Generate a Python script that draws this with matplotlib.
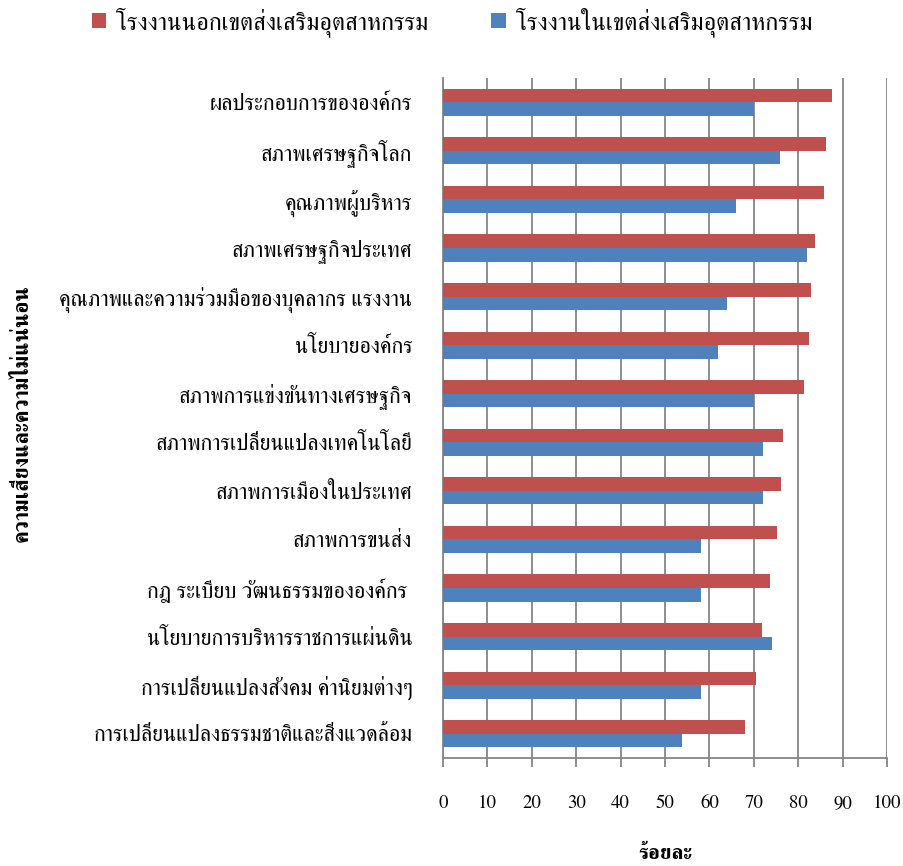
import numpy as np
import matplotlib
matplotlib.use('Agg')
import matplotlib.pyplot as plt

plt.rcParams['font.family'] = ['FreeSerif', 'DejaVu Sans']

categories = [
    'ผลประกอบการขององค์กร',
    'สภาพเศรษฐกิจโลก',
    'คุณภาพผู้บริหาร',
    'สภาพเศรษฐกิจประเทศ',
    'คุณภาพและความร่วมมือของบุคลากร แรงงาน',
    'นโยบายองค์กร',
    'สภาพการแข่งขันทางเศรษฐกิจ',
    'สภาพการเปลี่ยนแปลงเทคโนโลยี',
    'สภาพการเมืองในประเทศ',
    'สภาพการขนส่ง',
    'กฎ ระเบียบ วัฒนธรรมขององค์กร ',
    'นโยบายการบริหารราชการแผ่นดิน',
    'การเปลี่ยนแปลงสังคม ค่านิยมต่างๆ',
    'การเปลี่ยนแปลงธรรมชาติและสิ่งแวดล้อม',
]
outside_zone = [87.6, 86.2, 85.7, 83.7, 82.9, 82.4, 81.4, 76.6, 76.2, 75.2, 73.7, 71.8, 70.4, 68.1]
inside_zone = [70.0, 75.9, 65.9, 82.0, 63.9, 61.9, 70.0, 72.0, 72.0, 58.0, 58.0, 74.0, 58.0, 53.9]
series_names = ['โรงงานนอกเขตส่งเสริมอุตสาหกรรม', 'โรงงานในเขตส่งเสริมอุตสาหกรรม']
xticks = [0, 10, 20, 30, 40, 50, 60, 70, 80, 90, 100]

fig = plt.figure(figsize=(9.04, 8.66), dpi=100)
ax = fig.add_axes([443 / 904, 1 - 758 / 866, 444 / 904, 680 / 866])

y = np.arange(len(categories))
h = 0.28
ax.barh(y - h / 2, outside_zone, height=h, color='#C0504D', label=series_names[0], zorder=3)
ax.barh(y + h / 2, inside_zone, height=h, color='#4F81BD', label=series_names[1], zorder=3)

ax.set_ylim(len(categories) - 0.5, -0.5)
ax.set_xlim(0, 100)
ax.set_yticks(y)
ax.set_yticklabels(categories, fontsize=15.8)
ax.set_xticks(xticks)
ax.set_xticklabels([str(t) for t in xticks], fontsize=13.5)
ax.tick_params(axis='y', length=0, pad=22)
ax.tick_params(axis='x', length=6.5, width=1.3, color='#868686', pad=20)
ax.grid(axis='x', color='#868686', linewidth=1.3, zorder=0)
for s in ['top', 'right']:
    ax.spines[s].set_visible(False)
for s in ['left', 'bottom']:
    ax.spines[s].set_color('#868686')
    ax.spines[s].set_linewidth(1.3)

ax.set_xlabel('ร้อยละ', fontsize=15, fontweight='bold', labelpad=24)
fig.text(22 / 904, 1 - 413 / 866, 'ความเสี่ยงและความไม่แน่นอน', rotation=90,
         fontsize=15.5, fontweight='bold', ha='center', va='center')

fig.legend(loc='center', bbox_to_anchor=(0.5, 1 - 22 / 866), ncol=2, frameon=False,
           fontsize=17.5, handlelength=0.6, handleheight=0.6, columnspacing=2.6, handletextpad=0.4)

fig.savefig('out.png')
